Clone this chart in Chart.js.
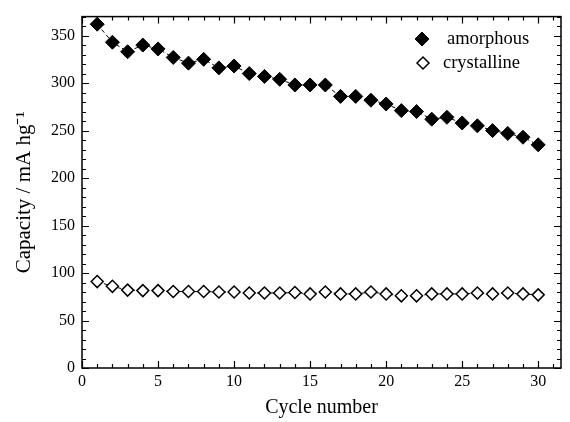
<!DOCTYPE html>
<html><head><meta charset="utf-8">
<script src="https://cdn.jsdelivr.net/npm/chart.js@4/dist/chart.umd.min.js"></script>
<style>html,body{margin:0;padding:0;background:#fff;}#wrap{width:570px;height:422px;}</style>
</head><body><div id="wrap"><canvas id="c" width="570" height="422"></canvas></div>
<script>
const cycles = [1,2,3,4,5,6,7,8,9,10,11,12,13,14,15,16,17,18,19,20,21,22,23,24,25,26,27,28,29,30];
const amorphous = [362,343,333,340,336,327,321,325,316,318,310,307,304,298,298,298,286,286,282,278,271,270,262,264,258,255,250,247,243,235];
const crystalline = [91,86,82,81.5,81.5,80.5,80.5,80.5,80,80,79,79,79,79.5,78,80,78,78,80,78,76,76,78,78,78,79,78,79,78,77];
const xTickLabels = [0,5,10,15,20,25,30];
const yTickLabels = [0,50,100,150,200,250,300,350];
const seriesNames = ['amorphous','crystalline'];

const FONT = "'Liberation Serif', 'Times New Roman', serif";

const framePlugin = {
  id: 'frame',
  beforeDatasetsDraw(chart) {
    const ctx = chart.ctx, a = chart.chartArea, xs = chart.scales.x, ys = chart.scales.y;
    ctx.save();
    ctx.strokeStyle = '#000';
    ctx.lineWidth = 1.5;
    ctx.strokeRect(a.left, a.top, a.right - a.left, a.bottom - a.top);
    ctx.lineWidth = 1.2;
    ctx.beginPath();
    for (let v = 0; v <= xs.max; v += 1) {
      const p = Math.round(xs.getPixelForValue(v)) + 0.5;
      const L = (v % 5 === 0) ? 7 : 4;
      ctx.moveTo(p, a.bottom); ctx.lineTo(p, a.bottom - L);
      ctx.moveTo(p, a.top); ctx.lineTo(p, a.top + L);
    }
    for (let v = 0; v <= ys.max; v += 10) {
      const p = Math.round(ys.getPixelForValue(v)) + 0.5;
      const L = (v % 50 === 0) ? 7 : 4;
      ctx.moveTo(a.left, p); ctx.lineTo(a.left + L, p);
      ctx.moveTo(a.right, p); ctx.lineTo(a.right - L, p);
    }
    ctx.stroke();
    ctx.restore();
  },
  afterDraw(chart) {
    const ctx = chart.ctx;
    const items = [
      {ds: chart.data.datasets[0], x: 422, y: 39, tx: 447},
      {ds: chart.data.datasets[1], x: 423, y: 63, tx: 443}
    ];
    ctx.save();
    items.forEach(it => {
      ctx.fillStyle = it.ds.pointBackgroundColor;
      ctx.strokeStyle = it.ds.pointBorderColor;
      ctx.lineWidth = it.ds.pointBorderWidth;
      Chart.helpers.drawPoint(ctx, {pointStyle: 'rectRot', radius: it.ds.pointRadius, rotation: 0, borderWidth: it.ds.pointBorderWidth}, it.x, it.y);
      ctx.fillStyle = '#000';
      ctx.font = "18.5px " + FONT;
      ctx.textBaseline = 'middle';
      ctx.textAlign = 'left';
      ctx.fillText(it.ds.label, it.tx, it.y);
    });
    ctx.restore();
  }
};

new Chart(document.getElementById('c'), {
  type: 'line',
  data: {
    datasets: [
      {
        label: seriesNames[0],
        data: cycles.map((c, i) => ({x: c, y: amorphous[i]})),
        borderColor: '#000', borderWidth: 1, borderDash: [4, 3],
        pointStyle: 'rectRot', pointRadius: 7,
        pointBackgroundColor: '#000', pointBorderColor: '#000', pointBorderWidth: 1,
        tension: 0, fill: false
      },
      {
        label: seriesNames[1],
        data: cycles.map((c, i) => ({x: c, y: crystalline[i]})),
        borderColor: '#000', borderWidth: 1, borderDash: [4, 3],
        pointStyle: 'rectRot', pointRadius: 6,
        pointBackgroundColor: '#fff', pointBorderColor: '#000', pointBorderWidth: 1.5,
        tension: 0, fill: false
      }
    ]
  },
  options: {
    responsive: false,
    animation: false,
    layout: {padding: {top: 15, right: 9, left: 0, bottom: 0}},
    plugins: {legend: {display: false}, tooltip: {enabled: false}},
    scales: {
      x: {
        type: 'linear', min: 0, max: 31.5,
        afterBuildTicks: s => { s.ticks = xTickLabels.map(v => ({value: v})); },
        afterFit: s => { s.height = 54; },
        grid: {display: false, drawTicks: false}, border: {display: false},
        ticks: {color: '#000', font: {family: FONT, size: 16}, padding: 4, maxRotation: 0, autoSkip: false},
        title: {display: true, text: 'Cycle number', color: '#000', font: {family: FONT, size: 20}, padding: {top: 0, bottom: 2}}
      },
      y: {
        type: 'linear', min: 0, max: 370,
        afterBuildTicks: s => { s.ticks = yTickLabels.map(v => ({value: v})); },
        afterFit: s => { s.width = 82; },
        grid: {display: false, drawTicks: false}, border: {display: false},
        ticks: {color: '#000', font: {family: FONT, size: 16}, padding: 7, autoSkip: false},
        title: {display: true, text: 'Capacity / mA hg\u207B\u00B9', color: '#000', font: {family: FONT, size: 21}, padding: {top: 12, bottom: 0}}
      }
    }
  },
  plugins: [framePlugin]
});
</script>
</body></html>
